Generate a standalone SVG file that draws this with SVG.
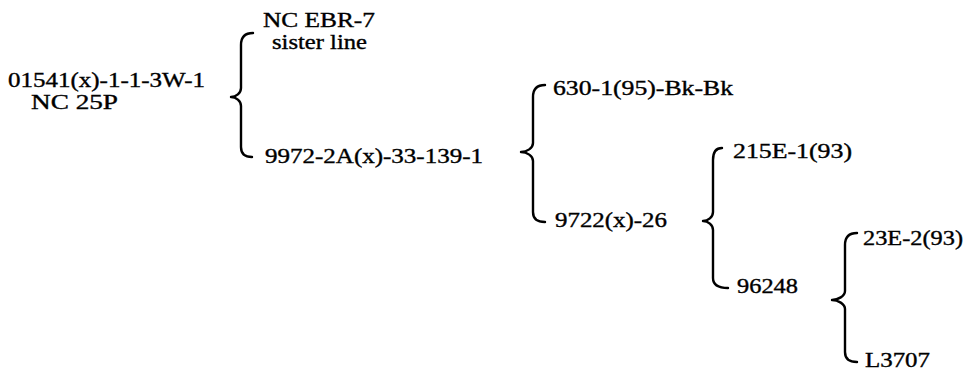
<svg xmlns="http://www.w3.org/2000/svg" width="970" height="373" viewBox="0 0 970 373">
<style>
text{font-family:'Liberation Serif','Times New Roman','DejaVu Serif',serif;font-size:20px;fill:#000;stroke:#000;stroke-width:0.35}
.brace{fill:none;stroke:#000;stroke-width:2.4;stroke-linecap:round;stroke-linejoin:round}
</style>
<rect width="970" height="373" fill="#fff"/>
<g id="connectors">
<path class="brace" d="M253,33 C245,33 241,37 241,45 L241,88 C241,93 236,97 231,97 C236,97 241,101 241,106 L241,147 C241,154 245,157 252,157"/>
<path class="brace" d="M545,85 C537,85 533,89 533,97 L533,143 C533,148 527,152 521,152 C527,152 533,156 533,161 L533,212 C533,219 538,222 545,222"/>
<path class="brace" d="M722,148 C716,148 713,152 713,160 L713,212 C713,217 708,221 703,221 C708,221 713,225 713,230 L713,278 C713,285 719,288 728,288"/>
<path class="brace" d="M857,233 C849,233 845,237 845,245 L845,291 C845,296 838,300 832,300 C838,300 845,304 845,309 L845,352 C845,359 850,362 857,362"/>
</g>
<g id="n-root">
<text x="8" y="87" textLength="197" lengthAdjust="spacingAndGlyphs">01541(x)-1-1-3W-1</text>
<text x="31" y="109" textLength="87" lengthAdjust="spacingAndGlyphs">NC 25P</text>
</g>
<g id="n-ebr7">
<text x="263" y="27" textLength="112" lengthAdjust="spacingAndGlyphs">NC EBR-7</text>
<text x="272" y="49" textLength="95" lengthAdjust="spacingAndGlyphs">sister line</text>
</g>
<g id="n-9972">
<text x="265" y="163" textLength="218" lengthAdjust="spacingAndGlyphs">9972-2A(x)-33-139-1</text>
</g>
<g id="n-630">
<text x="553" y="95" textLength="180" lengthAdjust="spacingAndGlyphs">630-1(95)-Bk-Bk</text>
</g>
<g id="n-9722">
<text x="555" y="227" textLength="112" lengthAdjust="spacingAndGlyphs">9722(x)-26</text>
</g>
<g id="n-215E">
<text x="733" y="158" textLength="119" lengthAdjust="spacingAndGlyphs">215E-1(93)</text>
</g>
<g id="n-96248">
<text x="737" y="293" textLength="61" lengthAdjust="spacingAndGlyphs">96248</text>
</g>
<g id="n-23E">
<text x="863" y="245" textLength="100" lengthAdjust="spacingAndGlyphs">23E-2(93)</text>
</g>
<g id="n-L3707">
<text x="865" y="367" textLength="65" lengthAdjust="spacingAndGlyphs">L3707</text>
</g>
</svg>
